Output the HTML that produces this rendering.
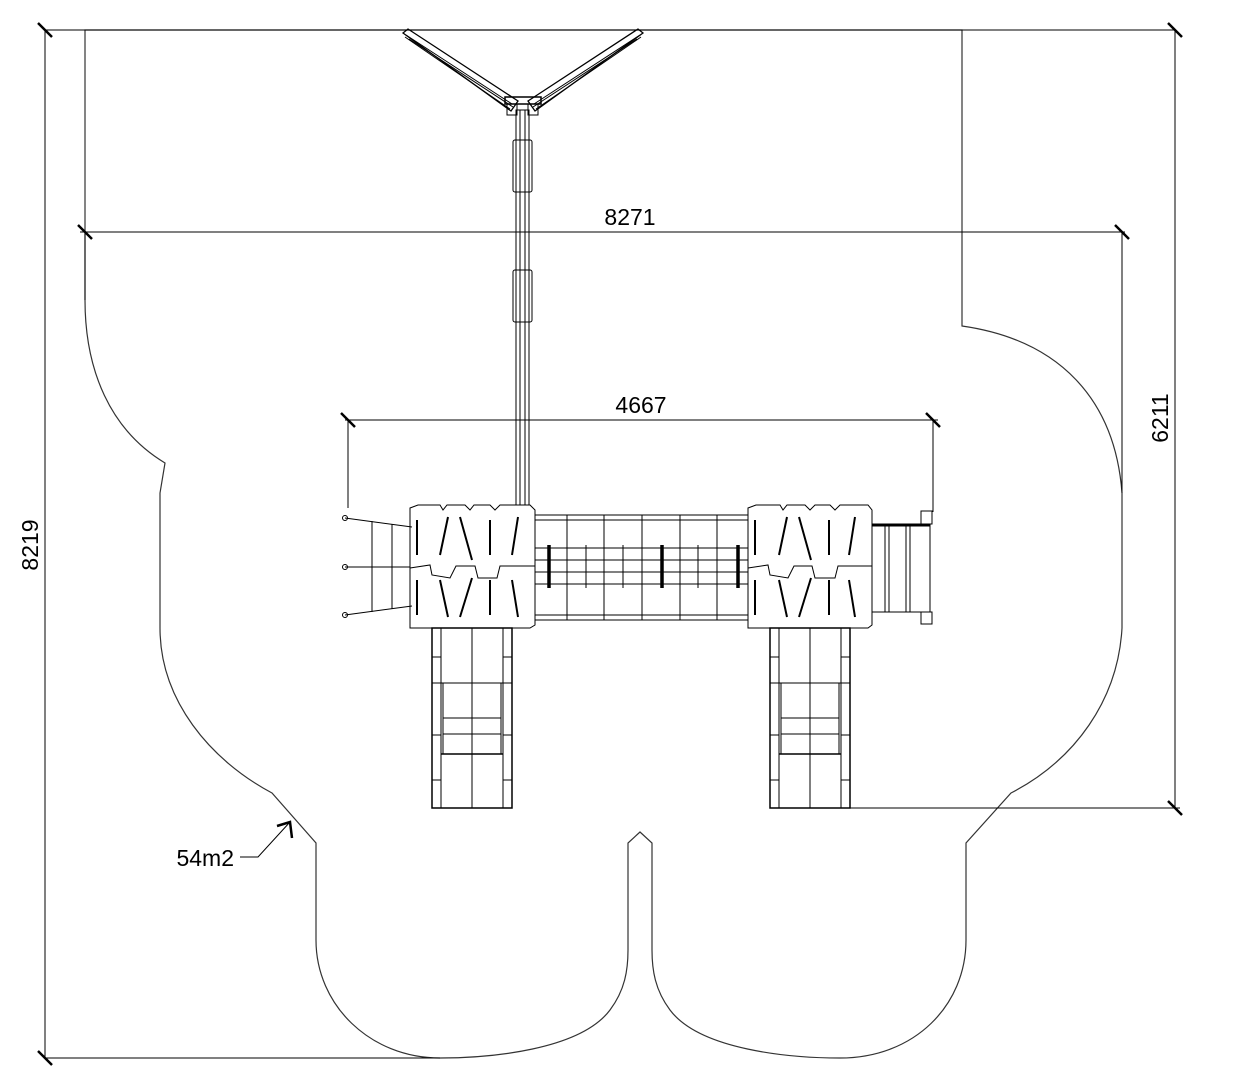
<!DOCTYPE html>
<html><head><meta charset="utf-8"><style>
html,body{margin:0;padding:0;background:#fff;}
svg{display:block;}
text{font-family:"Liberation Sans",sans-serif;fill:#000;}
</style></head><body>
<svg width="1239" height="1078" viewBox="0 0 1239 1078" xmlns="http://www.w3.org/2000/svg">
<g fill="none" stroke="#333" stroke-width="1.2">
<path d="M85,30 L962,30 L962,326 C1060,340 1115,400 1122,493 L1122,628 C1118,700 1075,760 1011,793 L966,843 L966,940 C966,1005 915,1058 840,1058 C790,1058 700,1050 670,1010 C655,990 652,970 652,950 L652,843 L640,832 L628,843 L628,950 C628,970 625,990 610,1010 C580,1050 490,1058 440,1058 C370,1058 316,1005 316,940 L316,843 L272,793 C210,760 160,700 160,628 L160,493 L165,463 C110,430 85,370 85,300 Z"/>
</g>
<g fill="none" stroke="#000" stroke-width="1">
<line x1="45" y1="30" x2="1175" y2="30"/>
<line x1="45" y1="30" x2="45" y2="1058"/>
<line x1="45" y1="1058" x2="440" y2="1058"/>
<line x1="1175" y1="30" x2="1175" y2="808"/>
<line x1="850" y1="808" x2="1180" y2="808"/>
<line x1="80" y1="232" x2="1125" y2="232"/>
<line x1="85" y1="232" x2="85" y2="300"/>
<line x1="1122" y1="232" x2="1122" y2="493"/>
<line x1="345" y1="420" x2="938" y2="420"/>
<line x1="348" y1="420" x2="348" y2="508"/>
<line x1="933" y1="420" x2="933" y2="512"/>
<polyline points="240,857 258,857 290,822"/>
</g>
<g stroke="#000" stroke-width="2.5">
<line x1="38" y1="23" x2="52" y2="37"/>
<line x1="38" y1="1051" x2="52" y2="1065"/>
<line x1="1168" y1="23" x2="1182" y2="37"/>
<line x1="1168" y1="801" x2="1182" y2="815"/>
<line x1="78" y1="225" x2="92" y2="239"/>
<line x1="1115" y1="225" x2="1129" y2="239"/>
<line x1="341" y1="413" x2="355" y2="427"/>
<line x1="926" y1="413" x2="940" y2="427"/>
<polyline points="277,826 290,822 292,838" fill="none"/>
</g>
<text x="630" y="225" font-size="23" text-anchor="middle">8271</text>
<text x="641" y="413" font-size="23" text-anchor="middle">4667</text>
<text x="234" y="866" font-size="23" text-anchor="end">54m2</text>
<text transform="translate(38,545) rotate(-90)" font-size="23" text-anchor="middle">8219</text>
<text transform="translate(1168,418) rotate(-90)" font-size="23" text-anchor="middle">6211</text>

<g fill="none" stroke="#000" stroke-width="1">
<!-- Y top -->
<path d="M403,33 L408,29 L518,101 L511,111 Z" stroke-width="1.3"/>
<path d="M406,35 L512,104"/><path d="M409,39 L513,107"/><path d="M405,37 L510,109"/>
<path d="M643,33 L638,29 L528,101 L535,111 Z" stroke-width="1.3"/>
<path d="M640,35 L534,104"/><path d="M637,39 L533,107"/><path d="M641,37 L536,109"/>
<rect x="505" y="97" width="36" height="7" stroke-width="1.5"/>
<rect x="507" y="104" width="10" height="11"/>
<rect x="528" y="104" width="10" height="11"/>
<rect x="516" y="110" width="13" height="395"/>
<line x1="520" y1="110" x2="520" y2="505"/>
<line x1="525" y1="110" x2="525" y2="505"/>
<rect x="513" y="140" width="19" height="52" rx="2"/>
<rect x="513" y="270" width="19" height="52" rx="2"/>
<!-- left tower -->
<path d="M410,508 L418,505 L440,505 L443,510 L447,505 L465,505 L470,510 L474,505 L490,505 L495,510 L500,505 L530,505 L535,510 L535,625 L530,628 L410,628 L410,508 Z"/>
<path d="M410,568 L430,565 L432,575 L450,578 L456,566 L475,566 L478,578 L497,578 L500,566 L535,566" />
<path d="M748,508 L756,505 L780,505 L783,510 L787,505 L805,505 L810,510 L815,505 L830,505 L835,510 L840,505 L868,505 L872,510 L872,625 L868,628 L748,628 L748,508 Z"/>
<path d="M748,568 L768,565 L770,575 L788,578 L794,566 L812,566 L815,578 L835,578 L838,566 L872,566" />
<g stroke-width="2">
<line x1="417" y1="520" x2="417" y2="555"/><line x1="417" y1="580" x2="417" y2="615"/>
<line x1="448" y1="517" x2="440" y2="555"/><line x1="460" y1="517" x2="472" y2="560"/>
<line x1="490" y1="520" x2="490" y2="555"/><line x1="518" y1="517" x2="512" y2="555"/>
<line x1="440" y1="580" x2="448" y2="617"/><line x1="472" y1="578" x2="460" y2="617"/>
<line x1="490" y1="580" x2="490" y2="615"/><line x1="512" y1="580" x2="518" y2="617"/>
<line x1="755" y1="520" x2="755" y2="555"/><line x1="755" y1="580" x2="755" y2="615"/>
<line x1="787" y1="517" x2="779" y2="555"/><line x1="799" y1="517" x2="811" y2="560"/>
<line x1="829" y1="520" x2="829" y2="555"/><line x1="855" y1="517" x2="849" y2="555"/>
<line x1="779" y1="580" x2="787" y2="617"/><line x1="811" y1="578" x2="799" y2="617"/>
<line x1="829" y1="580" x2="829" y2="615"/><line x1="849" y1="580" x2="855" y2="617"/>
</g>
<rect x="535" y="515" width="213" height="105"/>
<line x1="535" y1="520" x2="748" y2="520"/>
<line x1="535" y1="615" x2="748" y2="615"/>
<line x1="535" y1="548" x2="748" y2="548"/>
<line x1="535" y1="560" x2="748" y2="560"/>
<line x1="535" y1="572" x2="748" y2="572"/>
<line x1="535" y1="584" x2="748" y2="584"/>
<line x1="567" y1="515" x2="567" y2="620"/>
<line x1="604" y1="515" x2="604" y2="620"/>
<line x1="642" y1="515" x2="642" y2="620"/>
<line x1="680" y1="515" x2="680" y2="620"/>
<line x1="717" y1="515" x2="717" y2="620"/>
<line x1="586" y1="545" x2="586" y2="588"/>
<line x1="623" y1="545" x2="623" y2="588"/>
<line x1="698" y1="545" x2="698" y2="588"/>
<g stroke-width="3.5">
<line x1="549" y1="545" x2="549" y2="588"/>
<line x1="662" y1="545" x2="662" y2="588"/>
<line x1="738" y1="545" x2="738" y2="588"/>
</g>
<line x1="345" y1="518" x2="412" y2="527"/>
<line x1="345" y1="567" x2="410" y2="567"/>
<line x1="345" y1="615" x2="412" y2="606"/>
<line x1="372" y1="521" x2="372" y2="612"/>
<line x1="392" y1="524" x2="392" y2="609"/>
<circle cx="345" cy="518" r="2.5"/><circle cx="345" cy="567" r="2.5"/><circle cx="345" cy="615" r="2.5"/>
<rect x="872" y="524" width="58" height="88"/>
<line x1="872" y1="525" x2="930" y2="525" stroke-width="3"/>
<line x1="885" y1="524" x2="885" y2="612"/>
<line x1="889" y1="524" x2="889" y2="612"/>
<line x1="906" y1="524" x2="906" y2="612"/>
<line x1="910" y1="524" x2="910" y2="612"/>
<rect x="921" y="511" width="11" height="13"/>
<rect x="921" y="612" width="11" height="12"/>
<g id="sl">
<rect x="432" y="628" width="80" height="180" stroke-width="1.5"/>
<line x1="441" y1="628" x2="441" y2="808"/>
<line x1="503" y1="628" x2="503" y2="808"/>
<line x1="443" y1="683" x2="443" y2="754"/>
<line x1="501" y1="683" x2="501" y2="754"/>
<line x1="472" y1="628" x2="472" y2="808"/>
<line x1="432" y1="683" x2="512" y2="683"/>
<line x1="443" y1="718" x2="501" y2="718"/>
<line x1="443" y1="734" x2="501" y2="734"/>
<line x1="441" y1="754" x2="503" y2="754" stroke-width="1.5"/>
<line x1="432" y1="735" x2="441" y2="735"/><line x1="503" y1="735" x2="512" y2="735"/>
<line x1="432" y1="657" x2="441" y2="657"/><line x1="503" y1="657" x2="512" y2="657"/>
<line x1="432" y1="780" x2="441" y2="780"/><line x1="503" y1="780" x2="512" y2="780"/>
</g>
<use href="#sl" transform="translate(338,0)"/>
</g>
</svg>
</body></html>
